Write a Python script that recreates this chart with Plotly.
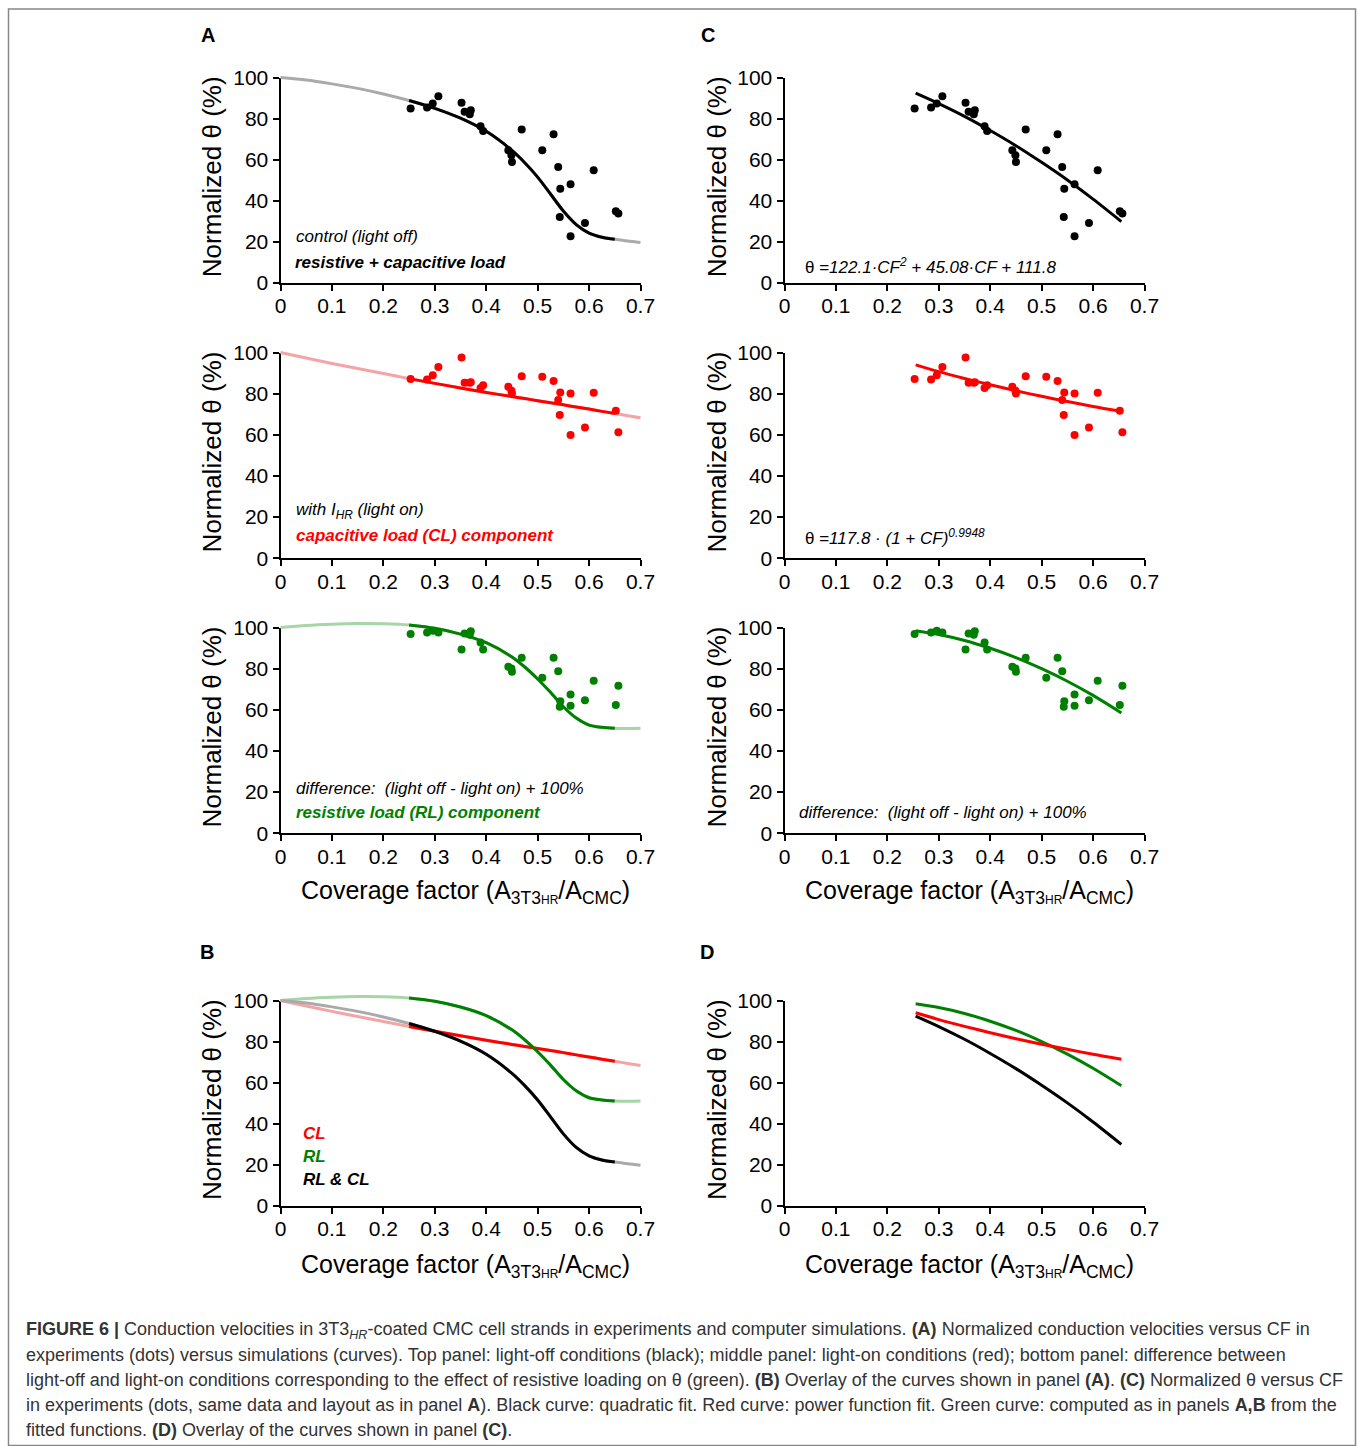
import plotly.graph_objects as go

W, H = 1358, 1446
FONT = "Liberation Sans, Arial, Helvetica, sans-serif"

# ---------------- data ----------------
# experimental coverage factors (same for every dot panel)
CF = [0.253, 0.285, 0.296, 0.307, 0.352, 0.358, 0.368, 0.370, 0.389, 0.394,
      0.443, 0.449, 0.450, 0.469, 0.509, 0.531, 0.540, 0.544, 0.543, 0.564,
      0.564, 0.592, 0.609, 0.652, 0.657]
# normalized theta, light off (black dots)
THETA_OFF = [84.9, 85.4, 87.3, 90.9, 87.7, 83.3, 82.1, 84.1, 76.3, 74.0,
             64.6, 62.2, 58.9, 74.7, 64.6, 72.4, 56.5, 45.9, 32.1, 48.1,
             22.7, 29.2, 54.9, 34.9, 33.8]
# normalized theta, light on (red dots)
THETA_ON = [87.1, 86.9, 89.0, 93.0, 97.6, 85.3, 85.3, 85.6, 82.8, 84.1,
            83.3, 81.4, 80.1, 88.5, 88.2, 86.2, 76.9, 80.6, 69.6, 80.1,
            59.9, 63.6, 80.4, 71.7, 61.2]
# difference (green dots)
THETA_DIFF = [96.8, 97.6, 98.4, 97.6, 89.3, 97.1, 96.5, 98.2, 92.7, 89.3,
              80.9, 80.1, 78.5, 85.3, 75.6, 85.3, 78.8, 64.2, 61.5, 67.5,
              62.0, 64.7, 74.1, 62.3, 71.7]

# simulation curves (panels A, B)
SIM_CF = [0, 0.05, 0.1, 0.15, 0.2, 0.25, 0.3, 0.35, 0.4, 0.45, 0.475, 0.5,
          0.525, 0.55, 0.575, 0.6, 0.625, 0.65, 0.675, 0.7]
SIM_RLCL = [100, 98.8, 96.9, 94.7, 92.0, 88.8, 85.0, 80.2, 73.8, 64.5, 58.5, 51.5,
            43.3, 35.0, 28.4, 24.3, 22.3, 21.3, 20.4, 19.7]
SIM_CL = [100, 97.3, 94.7, 92.2, 89.8, 87.3, 85.0, 82.8, 80.6, 78.6, 77.6, 76.6,
          75.6, 74.6, 73.5, 72.5, 71.4, 70.4, 69.3, 68.3]
SIM_RL = [100, 101.0, 101.6, 101.9, 101.8, 101.2, 99.6, 96.8, 92.6, 85.7, 80.8, 75.0,
          68.5, 61.5, 56.0, 52.6, 51.5, 51.0, 50.9, 51.0]
SIM_WINDOW = (0.25, 0.65)

# fitted curves (panels C, D)
FIT_CF = [0.255, 0.30, 0.35, 0.40, 0.45, 0.50, 0.55, 0.60, 0.655]
FIT_QUAD = [92.4, 87.3, 81.1, 74.2, 66.8, 58.7, 50.1, 40.8, 29.9]
FIT_POW = [94.0, 90.7, 87.4, 84.3, 81.4, 78.7, 76.2, 73.8, 71.4]
FIT_DIFF = [98.4, 96.6, 93.7, 89.9, 85.4, 80.0, 73.9, 67.0, 58.5]

X_TICKS = [0, 0.1, 0.2, 0.3, 0.4, 0.5, 0.6, 0.7]
X_TICKTEXT = ["0", "0.1", "0.2", "0.3", "0.4", "0.5", "0.6", "0.7"]
Y_TICKS = [0, 20, 40, 60, 80, 100]

# ---------------- styling / geometry ----------------
BLACK, RED, GREEN = "#000000", "#ff0000", "#008000"
LBLACK, LRED, LGREEN = "#aaaaaa", "#f4a4a4", "#a6d5a6"

COL_X = [(280.5, 640.5), (784.5, 1144.5)]
ROW_Y = [(77.5, 283.0), (352.5, 558.3), (627.5, 833.3), (1000.5, 1205.7)]
X_RANGE, Y_RANGE = (0.0, 0.7), (0.0, 100.0)
PAD_X, PAD_Y = 0.03, 6.0   # extra room for the (unclipped) curve overlay axes
TICK_FONT = 21


def fx(px):
    return px / W


def fy(py):
    return 1 - py / H


fig = go.Figure()
layout = dict(width=W, height=H, autosize=False,
              margin=dict(l=0, r=0, t=0, b=0, pad=0, autoexpand=False),
              paper_bgcolor="white", plot_bgcolor="rgba(0,0,0,0)", showlegend=False,
              font=dict(family=FONT, color="black"))


def axis_id(r, c):
    return r * 2 + c + 1


def sfx(n):
    return "" if n == 1 else str(n)


for r in range(4):
    for c in range(2):
        n = axis_id(r, c)
        x0, x1 = COL_X[c]
        y100, y0 = ROW_Y[r]
        layout["xaxis" + sfx(n)] = dict(
            domain=[fx(x0), fx(x1)], range=list(X_RANGE), anchor="y" + sfx(n),
            automargin=False, fixedrange=True, ticklabelstandoff=-3,
            showgrid=False, zeroline=False, showline=True, linecolor="black", linewidth=2,
            ticks="outside", ticklen=6, tickwidth=2, tickcolor="black",
            tickvals=X_TICKS, ticktext=X_TICKTEXT, tickfont=dict(size=TICK_FONT, family=FONT))
        layout["yaxis" + sfx(n)] = dict(
            domain=[fy(y0), fy(y100)], range=list(Y_RANGE), anchor="x" + sfx(n),
            automargin=False, fixedrange=True,
            showgrid=False, zeroline=False, showline=True, linecolor="black", linewidth=2,
            ticks="outside", ticklen=6, tickwidth=2, tickcolor="black",
            tickvals=Y_TICKS, tickfont=dict(size=TICK_FONT, family=FONT))
        # hidden overlay axes with the same scale but a larger window (curves are not clipped)
        m = n + 8
        sx = (x1 - x0) / (X_RANGE[1] - X_RANGE[0])
        sy = (y0 - y100) / (Y_RANGE[1] - Y_RANGE[0])
        layout["xaxis%d" % m] = dict(
            domain=[fx(x0 - PAD_X * sx), fx(x1 + PAD_X * sx)], automargin=False, fixedrange=True,
            range=[X_RANGE[0] - PAD_X, X_RANGE[1] + PAD_X], anchor="y%d" % m, visible=False)
        layout["yaxis%d" % m] = dict(
            domain=[fy(y0 + PAD_Y * sy), fy(y100 - PAD_Y * sy)], automargin=False, fixedrange=True,
            range=[Y_RANGE[0] - PAD_Y, Y_RANGE[1] + PAD_Y], anchor="x%d" % m, visible=False)


def ref(r, c, overlay=False):
    n = axis_id(r, c) + (8 if overlay else 0)
    return ("x" if n == 1 else "x%d" % n), ("y" if n == 1 else "y%d" % n)


# an (empty) trace on each visible axis pair so that every subplot frame is drawn
for r in range(4):
    for c in range(2):
        xa, ya = ref(r, c)
        fig.add_trace(go.Scatter(x=[], y=[], mode="markers", xaxis=xa, yaxis=ya,
                                 hoverinfo="skip"))


def add_line(r, c, xs, ys, color, width=3):
    xa, ya = ref(r, c, overlay=True)
    fig.add_trace(go.Scatter(x=xs, y=ys, mode="lines", xaxis=xa, yaxis=ya,
                             line=dict(color=color, width=width, shape="spline", smoothing=0.8),
                             hoverinfo="skip"))


def add_dots(r, c, xs, ys, color):
    xa, ya = ref(r, c, overlay=True)
    fig.add_trace(go.Scatter(x=xs, y=ys, mode="markers", xaxis=xa, yaxis=ya,
                             marker=dict(color=color, size=8, line=dict(width=0))))


def window(xs, ys):
    pts = [(x, y) for x, y in zip(xs, ys) if SIM_WINDOW[0] - 1e-9 <= x <= SIM_WINDOW[1] + 1e-9]
    return [p[0] for p in pts], [p[1] for p in pts]


sims = [(SIM_RLCL, BLACK, LBLACK, THETA_OFF), (SIM_CL, RED, LRED, THETA_ON),
        (SIM_RL, GREEN, LGREEN, THETA_DIFF)]

# Panel A (rows 0..2, col 0)
for r, (sim, col, lcol, dots) in enumerate(sims):
    add_line(r, 0, SIM_CF, sim, lcol)
    wx, wy = window(SIM_CF, sim)
    add_line(r, 0, wx, wy, col)
    add_dots(r, 0, CF, dots, col)

# Panel B (row 3, col 0)
for sim, col, lcol, _ in [sims[1], sims[2], sims[0]]:
    add_line(3, 0, SIM_CF, sim, lcol)
for sim, col, lcol, _ in [sims[1], sims[2], sims[0]]:
    wx, wy = window(SIM_CF, sim)
    add_line(3, 0, wx, wy, col)

# Panel C (rows 0..2, col 1)
fits = [(FIT_QUAD, BLACK, THETA_OFF), (FIT_POW, RED, THETA_ON), (FIT_DIFF, GREEN, THETA_DIFF)]
for r, (fit, col, dots) in enumerate(fits):
    add_dots(r, 1, CF, dots, col)
    add_line(r, 1, FIT_CF, fit, col)

# Panel D (row 3, col 1)
add_line(3, 1, FIT_CF, FIT_QUAD, BLACK)
add_line(3, 1, FIT_CF, FIT_DIFF, GREEN)
add_line(3, 1, FIT_CF, FIT_POW, RED)

# ---------------- text ----------------
ann = []


def text(px, py, s, size=16, color="black", xanchor="left", angle=0):
    ann.append(dict(x=fx(px), y=fy(py), xref="paper", yref="paper", text=s, showarrow=False,
                    xanchor=xanchor, yanchor="middle", textangle=angle,
                    font=dict(size=size, color=color, family=FONT)))


# panel letters
text(208, 35, "<b>A</b>", 20, xanchor="center")
text(708, 35, "<b>C</b>", 20, xanchor="center")
text(207, 952, "<b>B</b>", 20, xanchor="center")
text(707, 952, "<b>D</b>", 20, xanchor="center")

# y titles
for r in range(4):
    yc = (ROW_Y[r][0] + ROW_Y[r][1]) / 2 - 3
    text(212, yc, "Normalized θ (%)", 26, xanchor="center", angle=-90)
    text(717, yc, "Normalized θ (%)", 26, xanchor="center", angle=-90)

XT = "Coverage factor (A<sub>3T3<span style='font-size:12px'>HR</span></sub>/A<sub>CMC</sub>)"
text(465, 892, XT, 25, xanchor="center")
text(969, 892, XT, 25, xanchor="center")
text(465, 1266, XT, 25, xanchor="center")
text(969, 1266, XT, 25, xanchor="center")

# in-panel labels
LS = 17
text(294, 237, "<i>control (light off)</i>", LS)
text(293, 262, "<b><i>resistive + capacitive load</i></b>", LS)
text(294, 511, "<i>with I<sub>HR</sub> (light on)</i>", LS)
text(294, 535, "<b><i>capacitive load (CL) component</i></b>", LS, RED)
text(294, 789, "<i>difference:  (light off - light on) + 100%</i>", LS)
text(294, 812, "<b><i>resistive load (RL) component</i></b>", LS, GREEN)

text(803, 266, "θ =<i>122.1·CF<sup>2</sup> + 45.08·CF + 111.8</i>", LS)
text(803, 537, "θ =<i>117.8 · (1 + CF)<sup>0.9948</sup></i>", LS)
text(797, 812, "<i>difference:  (light off - light on) + 100%</i>", LS)

text(301, 1133, "<b><i>CL</i></b>", LS, RED)
text(301, 1156, "<b><i>RL</i></b>", LS, GREEN)
text(301, 1179, "<b><i>RL &amp; CL</i></b>", LS)

# caption
CAP = [
    "<b>FIGURE 6 |</b> Conduction velocities in 3T3<sub><i>HR</i></sub>-coated CMC cell strands in experiments and computer simulations. <b>(A)</b> Normalized conduction velocities versus CF in",
    "experiments (dots) versus simulations (curves). Top panel: light-off conditions (black); middle panel: light-on conditions (red); bottom panel: difference between",
    "light-off and light-on conditions corresponding to the effect of resistive loading on θ (green). <b>(B)</b> Overlay of the curves shown in panel <b>(A)</b>. <b>(C)</b> Normalized θ versus CF",
    "in experiments (dots, same data and layout as in panel <b>A</b>). Black curve: quadratic fit. Red curve: power function fit. Green curve: computed as in panels <b>A,B</b> from the",
    "fitted functions. <b>(D)</b> Overlay of the curves shown in panel <b>(C)</b>.",
]
for i, line in enumerate(CAP):
    text(24, 1330 + 25 * i, line, 18, "#333333")

layout["annotations"] = ann
layout["shapes"] = [dict(type="rect", xref="paper", yref="paper",
                         x0=fx(8.5), x1=fx(1355.5), y0=fy(1445.5), y1=fy(9),
                         line=dict(color="#888888", width=1.5), fillcolor="rgba(0,0,0,0)")]
fig.update_layout(**layout)
fig.write_html("out.html", config={"displayModeBar": False},
               post_script="document.body.style.margin='0px';document.body.style.overflow='hidden';")
